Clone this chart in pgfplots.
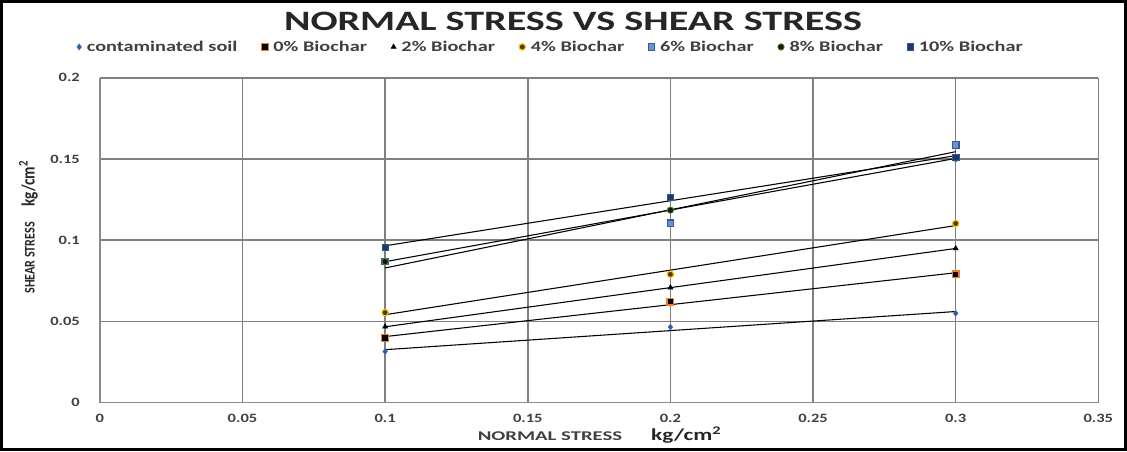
\documentclass[border=0pt]{standalone}
\usepackage{pgfplots}
\usepackage{pgfplotstable}
\usepackage{graphicx}
\pgfplotsset{compat=1.18}
\usepackage{fontspec}
\setmainfont{Carlito}
\pgfplotstableread{
x y
0.1 0.0315
0.2 0.0465
0.3 0.0550
}\contam
\pgfplotstableread{
x y
0.1 0.0397
0.2 0.0622
0.3 0.0790
}\bzero
\pgfplotstableread{
x y
0.1 0.0467
0.2 0.0708
0.3 0.0949
}\btwo
\pgfplotstableread{
x y
0.1 0.0554
0.2 0.0790
0.3 0.1103
}\bfour
\pgfplotstableread{
x y
0.1 0.0870
0.2 0.1105
0.3 0.1586
}\bsix
\pgfplotstableread{
x y
0.1 0.0868
0.2 0.1185
0.3 0.1504
}\beight
\pgfplotstableread{
x y
0.1 0.0955
0.2 0.1264
0.3 0.1510
}\bten
\definecolor{cblue}{HTML}{2E5E9E}
\definecolor{corange}{HTML}{ED7D31}
\definecolor{cgold}{HTML}{FFC000}
\definecolor{cmid}{HTML}{4472C4}
\definecolor{cmidf}{HTML}{6A93D6}
\definecolor{cgreen}{HTML}{548235}
\definecolor{cnavy}{HTML}{1F3864}
\definecolor{cnavyd}{HTML}{2F5597}
\definecolor{ctext}{HTML}{404040}
\newcommand{\lw}[1]{\scalebox{1.38}[1]{#1}}
\begin{document}
\begin{tikzpicture}
\begin{axis}[
  at={(0,0)}, anchor=south west,
  scale only axis, width=747pt, height=243pt,
  xmin=0, xmax=0.35, ymin=0, ymax=0.2,
  xtick={0,0.05,...,0.35}, ytick={0,0.05,...,0.2},
  xticklabels={0,0.05,0.1,0.15,0.2,0.25,0.3,0.35},
  yticklabels={0,0.05,0.1,0.15,0.2},
  scaled ticks=false,
  /pgf/number format/assume math mode=true,
  ticklabel style={font=\bfseries\fontsize{9.5}{11}\selectfont, text=ctext, xscale=1.3},
  xticklabel style={yshift=-5pt},
  yticklabel style={xshift=-8pt},
  major tick length=0pt,
  axis line style={draw=none},
  grid=major,
  major grid style={draw=black!50, line width=1.1pt},
  clip=false,
  legend columns=-1,
  legend style={at={(0.452,1.095)}, anchor=center, draw=none, fill=none,
    font=\bfseries\fontsize{11}{13}\selectfont, text=ctext,
    /tikz/every odd column/.append style={column sep=2pt},
    /tikz/every even column/.append style={column sep=16pt},
    inner sep=0pt},
]
\draw[black!45, line width=1.1pt] (axis cs:0,0) -- (axis cs:0,0.2);
\draw[black!45, line width=1.1pt] (axis cs:0,0) -- (axis cs:0.35,0);
% trendlines
\addplot[black, line width=0.8pt, forget plot] table[x=x, y={create col/linear regression={y=y}}] {\contam};
\addplot[black, line width=0.8pt, forget plot] table[x=x, y={create col/linear regression={y=y}}] {\bzero};
\addplot[black, line width=0.8pt, forget plot] table[x=x, y={create col/linear regression={y=y}}] {\btwo};
\addplot[black, line width=0.8pt, forget plot] table[x=x, y={create col/linear regression={y=y}}] {\bfour};
\addplot[black, line width=0.8pt, forget plot] table[x=x, y={create col/linear regression={y=y}}] {\bsix};
\addplot[black, line width=0.8pt, forget plot] table[x=x, y={create col/linear regression={y=y}}] {\beight};
\addplot[black, line width=0.8pt, forget plot] table[x=x, y={create col/linear regression={y=y}}] {\bten};
% markers
\addplot[only marks, mark=diamond*, mark size=2.3pt, mark options={fill=cblue, draw=cmid}] table[x=x,y=y] {\contam};
\addlegendentry{\lw{contaminated soil}}
\addplot[only marks, mark=square*, mark size=2.5pt, mark options={fill=black, draw=corange, line width=0.9pt}] table[x=x,y=y] {\bzero};
\addlegendentry{\lw{0\% Biochar}}
\addplot[only marks, mark=triangle*, mark size=2.2pt, mark options={fill=black, draw=black}] table[x=x,y=y] {\btwo};
\addlegendentry{\lw{2\% Biochar}}
\addplot[only marks, mark=*, mark size=2.4pt, mark options={fill=black!70!cgold, draw=cgold, line width=0.9pt}] table[x=x,y=y] {\bfour};
\addlegendentry{\lw{4\% Biochar}}
\addplot[only marks, mark=square*, mark size=2.4pt, mark options={fill=cmidf, draw=cmid!80!black, line width=0.9pt}] table[x=x,y=y] {\bsix};
\addlegendentry{\lw{6\% Biochar}}
\addplot[only marks, mark=*, mark size=2.4pt, mark options={fill=black!80!cgreen, draw=cgreen, line width=0.6pt}] table[x=x,y=y] {\beight};
\addlegendentry{\lw{8\% Biochar}}
\addplot[only marks, mark=square*, mark size=2.4pt, mark options={fill=cnavy, draw=cnavyd, line width=0.6pt}] table[x=x,y=y] {\bten};
\addlegendentry{\lw{10\% Biochar}}
\end{axis}
% outer frame
\draw[black, line width=2.4pt] (-73.5pt,-35.25pt) rectangle (767.25pt,300pt);
% title
\node[font=\bfseries\fontsize{21}{24}\selectfont, text=black!85, xscale=1.43] at ({(573-101)*0.75pt},{(403-23)*0.75pt}) {NORMAL STRESS VS SHEAR STRESS};
% x label
\node[font=\bfseries\fontsize{10}{12}\selectfont, text=ctext, anchor=base, xscale=1.55] at ({(550-101)*0.75pt},{(403-441)*0.75pt}) {NORMAL STRESS};
\node[font=\bfseries\fontsize{12.5}{14}\selectfont, text=black!85, anchor=base, xscale=1.4] at ({(686-101)*0.75pt},{(403-441)*0.75pt}) {kg/cm\textsuperscript{2}};
% y label
\node[rotate=90, anchor=base, font=\bfseries\fontsize{11}{13}\selectfont, text=black!85, xscale=0.82] at ({(36-101)*0.75pt},{(403-228)*0.75pt}) {SHEAR STRESS\hspace{14pt}{\fontsize{14}{16}\selectfont kg/cm\textsuperscript{2}}};
\end{tikzpicture}
\end{document}
